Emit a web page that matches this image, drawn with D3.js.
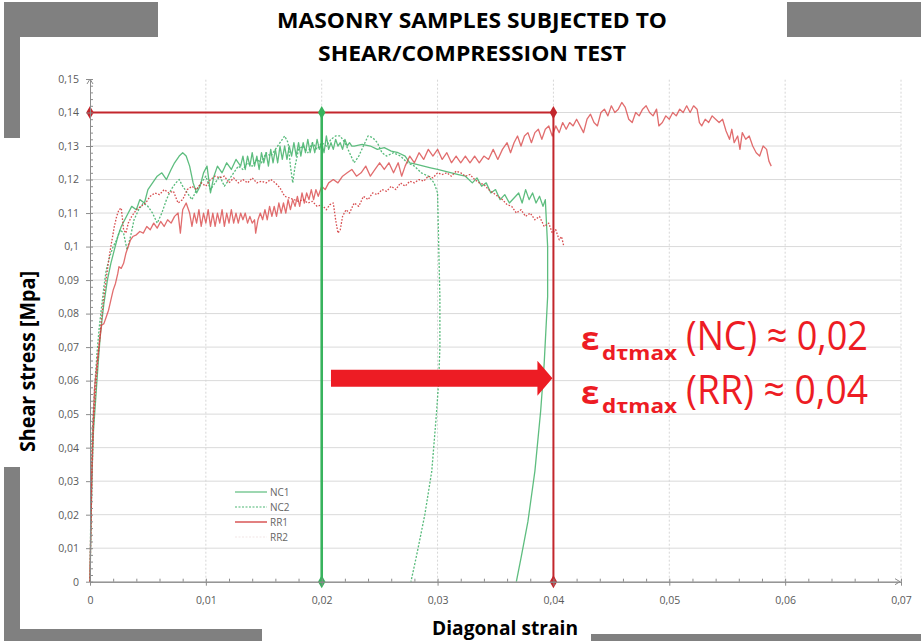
<!DOCTYPE html>
<html>
<head>
<meta charset="utf-8">
<script src="https://cdn.jsdelivr.net/npm/d3@7"></script>
<style>
  body { margin: 0; background: #fff; }
  svg { display: block; }
</style>
</head>
<body>
<div id="chart"></div>
<script>
// tick labels
const xTicks = [0, 0.01, 0.02, 0.03, 0.04, 0.05, 0.06, 0.07];
const yTicks = [0, 0.01, 0.02, 0.03, 0.04, 0.05, 0.06, 0.07, 0.08, 0.09, 0.1, 0.11, 0.12, 0.13, 0.14, 0.15];

// series: [diagonal strain, shear stress MPa]
const nc1 = [
  [0,0],[0.0001,0.02],[0.0002,0.035],[0.0003,0.045],[0.0005,0.055],[0.0007,0.065],[0.0009,0.074],
  [0.0012,0.083],[0.0015,0.09],[0.0018,0.095],[0.0021,0.099],[0.0024,0.103],[0.0027,0.106],[0.003,0.108],
  [0.0033,0.11],[0.0036,0.112],[0.004,0.111],[0.0043,0.114],[0.0047,0.113],[0.005,0.117],[0.0054,0.119],
  [0.0058,0.121],[0.0062,0.122],[0.0066,0.12],[0.007,0.123],[0.0073,0.125],[0.0077,0.127],[0.008,0.128],
  [0.0083,0.127],[0.0086,0.124],[0.0089,0.119],[0.0092,0.116],[0.0095,0.118],[0.0098,0.122],[0.0101,0.124],
  [0.0104,0.116],[0.0107,0.121],[0.011,0.124],[0.0114,0.122],[0.0118,0.125],[0.0122,0.123],[0.0126,0.126],
  [0.013,0.124],[0.0132,0.127],[0.0134,0.123],[0.0136,0.127],[0.0138,0.124],[0.014,0.128],[0.0142,0.124],
  [0.0144,0.127],[0.0146,0.123],[0.0148,0.128],[0.015,0.125],[0.0152,0.128],[0.0154,0.124],[0.0156,0.129],
  [0.0158,0.125],[0.016,0.129],[0.0162,0.125],[0.0164,0.13],[0.0166,0.126],[0.0168,0.13],[0.017,0.126],
  [0.0172,0.13],[0.0174,0.127],[0.0176,0.131],[0.0178,0.127],[0.018,0.131],[0.0182,0.127],[0.0184,0.131],
  [0.0186,0.128],[0.0188,0.132],[0.019,0.128],[0.0192,0.131],[0.0194,0.128],[0.0196,0.132],[0.0198,0.129],
  [0.02,0.131],[0.0202,0.128],[0.0204,0.133],[0.0206,0.129],[0.0208,0.131],[0.021,0.129],[0.0212,0.132],
  [0.0214,0.13],[0.0216,0.131],[0.0218,0.129],[0.022,0.132],[0.0222,0.13],[0.0224,0.131],[0.0226,0.13],
  [0.0228,0.13],[0.0235,0.1305],[0.0242,0.13],[0.0248,0.129],
  [0.0254,0.1295],[0.026,0.1285],[0.0266,0.128],[0.0272,0.127],[0.0276,0.125],[0.0282,0.1245],[0.0288,0.124],
  [0.0294,0.1235],[0.03,0.123],[0.0306,0.1225],[0.0312,0.122],[0.0318,0.1215],[0.0324,0.121],[0.033,0.119],
  [0.0334,0.1205],[0.0338,0.118],[0.0342,0.119],[0.0346,0.116],[0.035,0.117],[0.0354,0.114],[0.0358,0.1155],
  [0.0362,0.113],[0.0366,0.1145],[0.037,0.116],[0.0373,0.113],[0.0376,0.117],[0.0379,0.114],[0.0382,0.116],
  [0.0385,0.113],[0.0388,0.115],[0.0391,0.112],[0.0393,0.114],[0.0395,0.1],[0.0395,0.085],[0.0392,0.065],
  [0.0389,0.051],[0.0384,0.033],[0.0378,0.018],[0.0372,0.007],[0.0368,0]
];
const nc2 = [
  [0,0],[0.0001,0.03],[0.0002,0.045],[0.0004,0.058],[0.0006,0.068],[0.0008,0.076],[0.001,0.082],
  [0.0012,0.088],[0.0014,0.093],[0.0017,0.097],[0.002,0.1],[0.0023,0.102],[0.0026,0.105],[0.0029,0.104],
  [0.0032,0.099],[0.0035,0.103],[0.0038,0.108],[0.0042,0.111],[0.0046,0.113],[0.005,0.112],[0.0054,0.11],
  [0.0058,0.107],[0.0062,0.11],[0.0066,0.114],[0.007,0.117],[0.0074,0.119],[0.0077,0.12],[0.008,0.118],
  [0.0084,0.116],[0.0088,0.114],[0.0092,0.117],[0.0096,0.119],[0.01,0.121],[0.0104,0.117],[0.0108,0.119],
  [0.0112,0.121],[0.0116,0.118],[0.012,0.12],[0.0124,0.122],[0.0128,0.124],[0.0132,0.123],[0.0136,0.125],
  [0.014,0.124],[0.0144,0.126],[0.0148,0.125],[0.0152,0.128],[0.0156,0.127],[0.016,0.129],[0.0164,0.131],
  [0.0168,0.133],[0.0171,0.131],[0.0173,0.124],[0.0175,0.119],[0.0177,0.124],[0.018,0.129],[0.0184,0.13],
  [0.0188,0.128],[0.0192,0.131],[0.0196,0.129],[0.02,0.131],[0.0204,0.13],[0.0208,0.132],[0.0212,0.133],
  [0.0216,0.133],[0.022,0.131],[0.0224,0.128],[0.0228,0.125],[0.0232,0.127],[0.0236,0.13],[0.024,0.133],
  [0.0244,0.1325],[0.0248,0.131],[0.0252,0.128],[0.0256,0.127],[0.0262,0.128],[0.0268,0.127],[0.0274,0.125],
  [0.028,0.124],[0.0286,0.122],[0.0292,0.121],[0.0297,0.119],[0.03,0.116],[0.0301,0.1],[0.0302,0.085],
  [0.0302,0.07],[0.0301,0.06],[0.0299,0.05],[0.0295,0.033],[0.0289,0.02],[0.0282,0.008],[0.0277,0]
];
const rr1 = [
  [0,0],[0.0001,0.025],[0.0002,0.04],[0.0003,0.05],[0.0004,0.058],[0.0006,0.065],[0.0008,0.071],
  [0.001,0.0765],[0.0012,0.077],[0.0014,0.079],[0.0016,0.081],[0.0018,0.084],[0.002,0.087],[0.0022,0.089],
  [0.0024,0.092],[0.0025,0.094],[0.0027,0.0935],[0.0029,0.095],[0.0031,0.098],[0.0033,0.1],[0.0035,0.102],
  [0.0037,0.103],[0.004,0.1035],[0.0043,0.1045],[0.0046,0.104],[0.0049,0.106],[0.0052,0.105],[0.0055,0.107],
  [0.0058,0.1055],[0.0061,0.1075],[0.0064,0.106],[0.0067,0.108],[0.007,0.107],[0.0073,0.109],[0.0076,0.11],
  [0.0078,0.104],[0.008,0.111],[0.0083,0.113],[0.0086,0.11],[0.0088,0.106],[0.009,0.11],[0.0092,0.107],
  [0.0094,0.111],[0.0096,0.106],[0.0098,0.11],[0.01,0.107],[0.0102,0.111],[0.0104,0.106],[0.0106,0.11],
  [0.0108,0.106],[0.011,0.11],[0.0112,0.107],[0.0114,0.111],[0.0116,0.106],[0.0118,0.11],[0.012,0.107],
  [0.0122,0.111],[0.0124,0.107],[0.0126,0.11],[0.0128,0.107],[0.013,0.11],[0.0132,0.108],[0.0134,0.11],
  [0.0136,0.107],[0.0138,0.109],[0.014,0.107],[0.0142,0.108],[0.0143,0.104],[0.0145,0.108],[0.0147,0.11],
  [0.0149,0.108],[0.0151,0.111],[0.0153,0.108],[0.0155,0.112],[0.0157,0.109],[0.0159,0.112],[0.0161,0.109],
  [0.0163,0.113],[0.0165,0.11],[0.0167,0.113],[0.0169,0.11],[0.0171,0.114],[0.0173,0.111],[0.0175,0.114],
  [0.0177,0.112],[0.0179,0.115],[0.0181,0.112],[0.0183,0.116],[0.0185,0.113],[0.0187,0.116],[0.0189,0.114],
  [0.0191,0.117],[0.0193,0.114],[0.0195,0.117],[0.0197,0.115],[0.02,0.118],
  [0.0203,0.117],[0.0206,0.119],[0.021,0.12],[0.0214,0.119],[0.0218,0.121],[0.0222,0.122],[0.0226,0.123],
  [0.023,0.121],[0.0234,0.122],[0.0238,0.124],[0.0242,0.121],[0.0246,0.123],[0.025,0.125],[0.0254,0.123],
  [0.0258,0.125],[0.0262,0.122],[0.0266,0.125],[0.0269,0.121],[0.0272,0.124],[0.0276,0.127],[0.028,0.125],
  [0.0284,0.128],[0.0288,0.126],[0.0292,0.129],[0.0296,0.127],[0.03,0.129],[0.0304,0.126],[0.0308,0.128],
  [0.0312,0.125],[0.0316,0.127],[0.032,0.125],[0.0324,0.127],[0.0328,0.125],[0.0332,0.127],[0.0336,0.125],
  [0.034,0.127],[0.0344,0.126],[0.0348,0.129],[0.0352,0.126],[0.0356,0.129],[0.036,0.131],[0.0363,0.128],
  [0.0366,0.131],[0.0369,0.133],[0.0372,0.13],[0.0375,0.133],[0.0378,0.134],[0.0381,0.131],[0.0384,0.134],
  [0.0387,0.135],[0.039,0.132],[0.0393,0.135],[0.0396,0.136],[0.0399,0.133],[0.0402,0.136],[0.0405,0.134],
  [0.0408,0.137],[0.0411,0.135],[0.0414,0.137],[0.0417,0.136],[0.042,0.138],[0.0423,0.136],[0.0426,0.134],
  [0.0429,0.138],[0.0432,0.1395],[0.0435,0.137],[0.0438,0.136],[0.0441,0.14],[0.0444,0.141],[0.0447,0.139],
  [0.045,0.142],[0.0453,0.14],[0.0456,0.141],[0.0459,0.143],[0.0462,0.1415],[0.0465,0.138],[0.0468,0.137],
  [0.0471,0.14],[0.0474,0.139],[0.0477,0.141],[0.048,0.142],[0.0483,0.14],[0.0486,0.139],[0.0489,0.141],
  [0.0491,0.136],[0.0494,0.137],[0.0497,0.139],[0.05,0.138],[0.0503,0.14],[0.0506,0.139],[0.0509,0.141],
  [0.0512,0.14],[0.0515,0.142],[0.0518,0.14],[0.0521,0.142],[0.0524,0.141],[0.0526,0.137],[0.0528,0.136],
  [0.0531,0.138],[0.0534,0.137],[0.0537,0.139],[0.054,0.138],[0.0543,0.137],[0.0546,0.138],[0.0549,0.1345],
  [0.0552,0.132],[0.0554,0.135],[0.0556,0.131],[0.0559,0.133],[0.0561,0.129],[0.0563,0.134],[0.0566,0.132],
  [0.0569,0.133],[0.0572,0.13],[0.0575,0.128],[0.0578,0.127],[0.0581,0.13],[0.0584,0.129],[0.0586,0.1255],
  [0.0588,0.124]
];
const rr2 = [
  [0,0],[0.0001,0.02],[0.0002,0.035],[0.0003,0.047],[0.0005,0.058],[0.0007,0.067],[0.0009,0.075],
  [0.0011,0.082],[0.0013,0.088],[0.0015,0.093],[0.0017,0.098],[0.0019,0.102],[0.0021,0.106],[0.0023,0.109],
  [0.0025,0.111],[0.0027,0.1115],[0.0029,0.105],[0.0031,0.104],[0.0033,0.107],[0.0036,0.109],[0.004,0.111],
  [0.0044,0.112],[0.0048,0.113],[0.0052,0.115],[0.0056,0.116],[0.006,0.1155],[0.0064,0.117],[0.0068,0.116],
  [0.0072,0.1165],[0.0076,0.113],[0.008,0.114],[0.0084,0.117],[0.0088,0.118],[0.0092,0.117],[0.0096,0.119],
  [0.01,0.118],[0.0104,0.12],[0.0108,0.121],[0.0112,0.1205],[0.0116,0.121],[0.012,0.119],[0.0124,0.1205],
  [0.0128,0.119],[0.0132,0.12],[0.0136,0.119],[0.014,0.1205],[0.0144,0.119],[0.0148,0.1195],[0.0152,0.119],
  [0.0156,0.12],[0.016,0.119],[0.0164,0.1175],[0.0168,0.115],[0.0172,0.1145],[0.0176,0.114],[0.018,0.1135],
  [0.0184,0.114],[0.0188,0.113],[0.0192,0.1135],[0.0196,0.112],[0.02,0.1125],[0.0204,0.111],[0.0207,0.1125],
  [0.021,0.113],[0.0212,0.108],[0.0214,0.104],[0.0216,0.105],[0.0218,0.109],[0.0221,0.111],[0.0224,0.11],
  [0.0228,0.113],[0.0232,0.112],[0.0236,0.115],[0.024,0.114],[0.0244,0.116],[0.0248,0.1155],[0.0252,0.117],
  [0.0256,0.1165],[0.026,0.118],[0.0264,0.117],[0.0268,0.119],[0.0272,0.118],[0.0276,0.1195],[0.028,0.119],
  [0.0284,0.12],[0.0288,0.1195],[0.0292,0.121],[0.0296,0.1205],[0.03,0.122],[0.0304,0.1215],[0.0308,0.122],
  [0.0312,0.121],[0.0316,0.1225],[0.032,0.122],[0.0324,0.121],[0.0328,0.1215],[0.0332,0.12],[0.0336,0.119],
  [0.034,0.1185],[0.0344,0.117],[0.0348,0.116],[0.0352,0.115],[0.0356,0.114],[0.036,0.1125],[0.0364,0.112],
  [0.0368,0.11],[0.0372,0.111],[0.0376,0.109],[0.038,0.11],[0.0384,0.108],[0.0388,0.109],[0.0392,0.106],
  [0.0396,0.107],[0.0399,0.104],[0.0402,0.105],[0.0405,0.102],[0.0407,0.103],[0.0409,0.1]
];

// reference lines for the strain at max stress
const tauMax = 0.14;
const strainNC = 0.02;
const strainRR = 0.04;
const arrowStress = 0.0607;
const arrowFrom = 0.0208;

const seriesNames = ["NC1", "NC2", "RR1", "RR2"];

const width = 921, height = 641;
const svg = d3.select("#chart").append("svg")
  .attr("width", width)
  .attr("height", height)
  .style("font-family", "'Open Sans', sans-serif");

// grey frame pieces behind the slide
const grey = "#808080";
[[4, 2, 154, 35], [787, 2, 134, 35], [4, 37, 16, 101], [4, 467, 16, 174],
 [20, 629, 242, 12], [591, 634, 330, 7]].forEach(r => {
  svg.append("rect").attr("x", r[0]).attr("y", r[1]).attr("width", r[2]).attr("height", r[3]).attr("fill", grey);
});

const x = d3.scaleLinear().domain([0, 0.07]).range([90, 901]);
const y = d3.scaleLinear().domain([0, 0.15]).range([581.7, 79]);

const fmt = d => d3.format(".2~f")(d).replace(".", ",");

// grid
svg.append("g").selectAll("line")
  .data(yTicks.filter(d => d > 0 && d < 0.15))
  .enter().append("line")
  .attr("x1", x(0)).attr("x2", x(0.07))
  .attr("y1", d => y(d)).attr("y2", d => y(d))
  .attr("stroke", "#dadada").attr("stroke-width", 1);
svg.append("g").selectAll("line")
  .data(xTicks.filter(d => d > 0))
  .enter().append("line")
  .attr("x1", d => x(d)).attr("x2", d => x(d))
  .attr("y1", y(0)).attr("y2", y(0.15))
  .attr("stroke", "#d6d6d6").attr("stroke-width", 1)
  .attr("stroke-dasharray", "2,2");

// curves
const line = d3.line().x(d => x(d[0])).y(d => y(d[1]));
const styles = {
  NC1: { data: nc1, color: "#55b978", dash: null, width: 1.3, op: 0.95 },
  NC2: { data: nc2, color: "#4db673", dash: "2,1.6", width: 1.3, op: 0.95 },
  RR1: { data: rr1, color: "#d9484a", dash: null, width: 1.3, op: 0.8 },
  RR2: { data: rr2, color: "#d33a3c", dash: "1.6,1.6", width: 1.3, op: 0.9 }
};
seriesNames.forEach(n => {
  const s = styles[n];
  svg.append("path")
    .datum(s.data)
    .attr("d", line)
    .attr("fill", "none")
    .attr("stroke", s.color)
    .attr("stroke-width", s.width)
    .attr("stroke-opacity", s.op)
    .attr("stroke-linejoin", "round")
    .attr("stroke-dasharray", s.dash);
});

// reference lines
const darkRed = "#c3262c", green = "#38b35d";
svg.append("line")
  .attr("x1", x(0)).attr("x2", x(strainRR))
  .attr("y1", y(tauMax)).attr("y2", y(tauMax))
  .attr("stroke", darkRed).attr("stroke-width", 2);
svg.append("line")
  .attr("x1", x(strainRR)).attr("x2", x(strainRR))
  .attr("y1", y(tauMax)).attr("y2", y(0))
  .attr("stroke", darkRed).attr("stroke-width", 2);
svg.append("line")
  .attr("x1", x(strainNC)).attr("x2", x(strainNC))
  .attr("y1", y(tauMax)).attr("y2", y(0))
  .attr("stroke", green).attr("stroke-width", 2.6);

const diamond = d3.symbol().type(d3.symbolDiamond).size(48);
[[0, tauMax, darkRed], [strainRR, tauMax, darkRed], [strainRR, 0, darkRed],
 [strainNC, tauMax, green], [strainNC, 0, green]].forEach(m => {
  svg.append("path")
    .attr("d", diamond)
    .attr("transform", `translate(${x(m[0])},${y(m[1])})`)
    .attr("fill", m[2]);
});

// axes
const axisColor = "#8c8c8c";
const yAxis = svg.append("g")
  .attr("transform", `translate(${x(0)},0)`)
  .call(d3.axisLeft(y).tickValues(yTicks).tickFormat(fmt).tickSize(4).tickSizeOuter(0).tickPadding(7));
const yMinor = svg.append("g")
  .attr("transform", `translate(${x(0)},0)`)
  .call(d3.axisRight(y).ticks(75).tickFormat("").tickSize(3).tickSizeOuter(0));
const xAxis = svg.append("g")
  .attr("transform", `translate(0,${y(0)})`)
  .call(d3.axisBottom(x).tickValues(xTicks).tickFormat(fmt).tickSize(4).tickSizeOuter(0).tickPadding(11));
const xMinor = svg.append("g")
  .attr("transform", `translate(0,${y(0)})`)
  .call(d3.axisTop(x).ticks(35).tickFormat("").tickSize(3).tickSizeOuter(0));

[yAxis, yMinor, xAxis, xMinor].forEach(g => {
  g.select(".domain").attr("stroke", axisColor);
  g.selectAll(".tick line").attr("stroke", axisColor);
  g.selectAll(".tick text").attr("fill", "#5a5a5a").style("font-size", "10.5px")
    .style("font-family", "'Open Sans', sans-serif");
});

// axis arrow heads
svg.append("path")
  .attr("d", `M${x(0) - 3},${y(0.15) + 5}L${x(0)},${y(0.15)}L${x(0) + 3},${y(0.15) + 5}`)
  .attr("fill", "none").attr("stroke", axisColor).attr("stroke-width", 1);
svg.append("path")
  .attr("d", `M${x(0.07) - 6},${y(0) - 3}L${x(0.07) - 1},${y(0)}L${x(0.07) - 6},${y(0) + 3}`)
  .attr("fill", "none").attr("stroke", axisColor).attr("stroke-width", 1);

// legend
const legend = svg.append("g");
const legendSwatch = {
  NC1: { color: "#5cbc7e", dash: null, w: 1.2 },
  NC2: { color: "#4db673", dash: "2,1.5", w: 1.2 },
  RR1: { color: "#e28080", dash: null, w: 2 },
  RR2: { color: "#f2e6e6", dash: "2,1.5", w: 1.2 }
};
seriesNames.forEach((n, i) => {
  const ly = 492 + i * 15;
  legend.append("line")
    .attr("x1", 235).attr("x2", 267).attr("y1", ly).attr("y2", ly)
    .attr("stroke", legendSwatch[n].color)
    .attr("stroke-width", legendSwatch[n].w)
    .attr("stroke-dasharray", legendSwatch[n].dash);
  legend.append("text")
    .attr("x", 270).attr("y", ly + 3.5)
    .attr("fill", "#666").style("font-size", "10px")
    .text(n);
});

// big arrow
const arrowRed = "#ed1c24";
const ay = y(arrowStress);
const ax0 = x(arrowFrom), ax1 = x(strainRR);
svg.append("path")
  .attr("d", `M${ax0},${ay - 8.5}L${ax1 - 16},${ay - 8.5}L${ax1 - 16},${ay - 17.5}L${ax1 - 1},${ay}` +
             `L${ax1 - 16},${ay + 17.5}L${ax1 - 16},${ay + 8.5}L${ax0},${ay + 8.5}Z`)
  .attr("fill", arrowRed);

// annotation text
[["(NC) ≈ 0,02", 350], ["(RR) ≈ 0,04", 403.5]].forEach(a => {
  const t = svg.append("g").attr("fill", arrowRed);
  t.append("text").attr("x", 581).attr("y", a[1])
    .style("font-size", "33px").style("font-weight", "bold").text("ε");
  t.append("text").attr("x", 602).attr("y", a[1] + 9.5)
    .style("font-size", "20px").style("font-weight", "bold")
    .attr("textLength", 75).attr("lengthAdjust", "spacingAndGlyphs").text("dτmax");
  t.append("text").attr("x", 686).attr("y", a[1])
    .style("font-size", "41px")
    .attr("textLength", 182).attr("lengthAdjust", "spacingAndGlyphs").text(a[0]);
});

// titles
svg.append("text").attr("x", 277).attr("y", 28)
  .style("font-size", "22px").style("font-weight", "bold")
  .attr("textLength", 390).attr("lengthAdjust", "spacingAndGlyphs")
  .text("MASONRY SAMPLES SUBJECTED TO");
svg.append("text").attr("x", 318).attr("y", 61)
  .style("font-size", "22px").style("font-weight", "bold")
  .attr("textLength", 308).attr("lengthAdjust", "spacingAndGlyphs")
  .text("SHEAR/COMPRESSION TEST");

svg.append("text")
  .attr("transform", "translate(35,452) rotate(-90)")
  .style("font-size", "22px").style("font-weight", "bold")
  .attr("textLength", 181).attr("lengthAdjust", "spacingAndGlyphs")
  .text("Shear stress [Mpa]");

svg.append("text").attr("x", 432).attr("y", 635)
  .style("font-size", "19px").style("font-weight", "bold")
  .attr("textLength", 146).attr("lengthAdjust", "spacingAndGlyphs")
  .text("Diagonal strain");
</script>
</body>
</html>
